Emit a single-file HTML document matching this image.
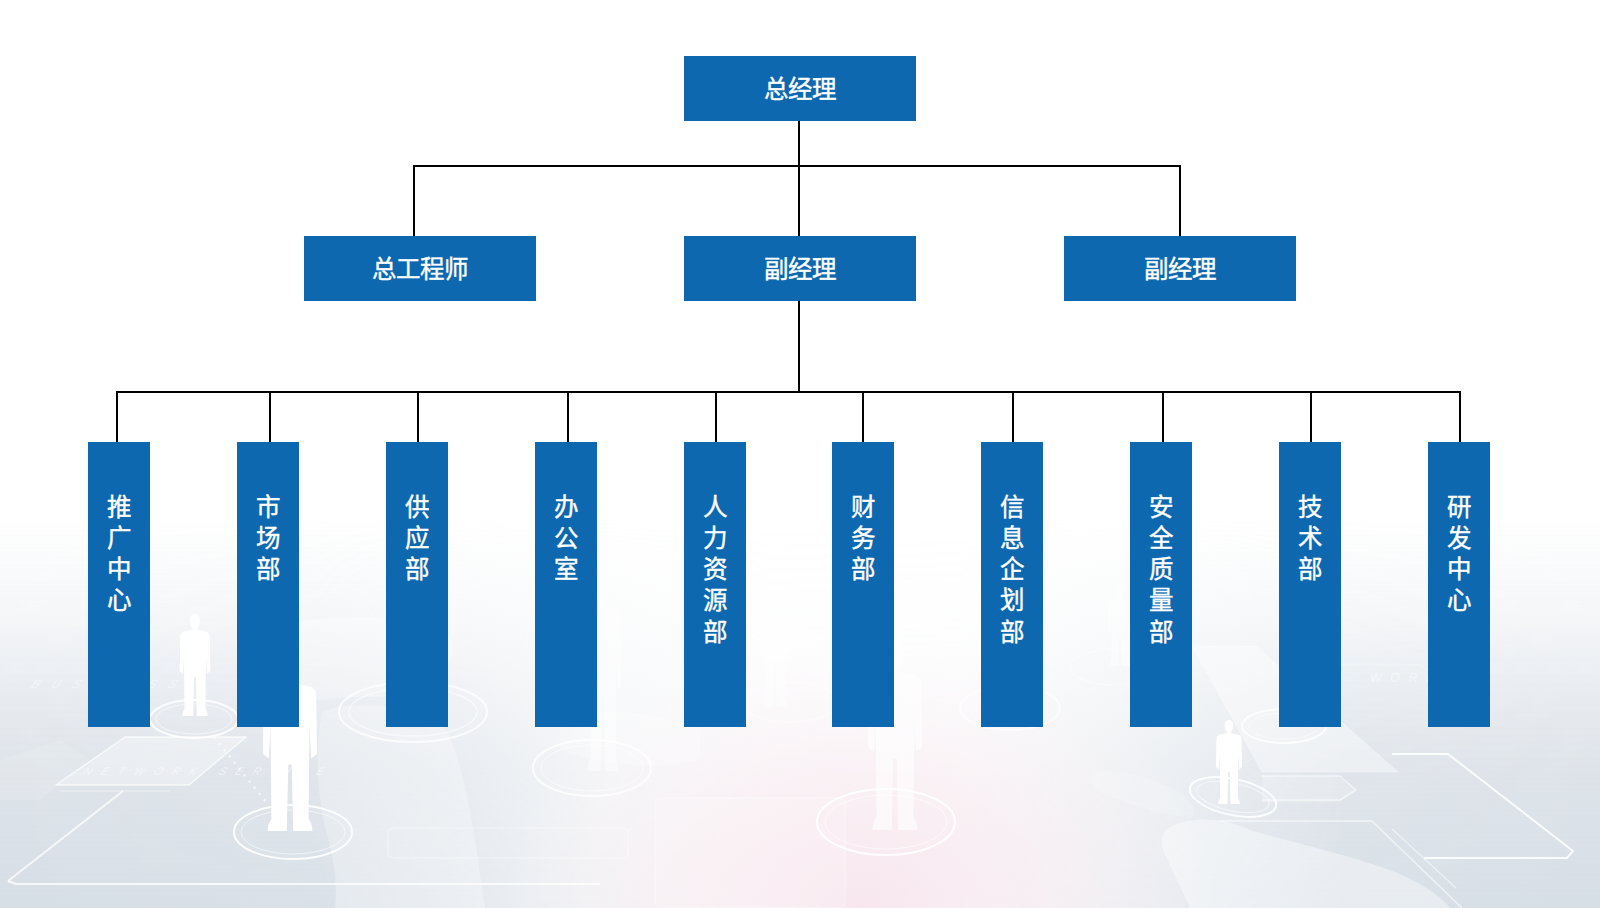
<!DOCTYPE html>
<html lang="zh-CN">
<head>
<meta charset="utf-8">
<title>组织架构</title>
<style>
html,body{margin:0;padding:0;}
body{width:1600px;height:908px;overflow:hidden;position:relative;background:#fff;font-family:"Liberation Sans",sans-serif;}
#bg{position:absolute;left:0;top:0;width:1600px;height:908px;}
.box{position:absolute;background:#0e68af;color:#fff;box-sizing:border-box;text-align:center;-webkit-text-stroke:0.4px #fff;}
.h{width:232px;height:65px;top:236px;font-size:24.5px;line-height:65px;padding-top:2px;line-height:63px;}
.v{width:62px;height:285px;top:442px;font-size:24.5px;line-height:31.25px;padding-top:49.5px;}
.ln{position:absolute;background:#000;}
</style>
</head>
<body>
<svg id="bg" width="1600" height="908" viewBox="0 0 1600 908">
  <defs>
    <linearGradient id="gv" x1="0" y1="0" x2="0" y2="908" gradientUnits="userSpaceOnUse">
      <stop offset="0" stop-color="#dbe1e8" stop-opacity="0"/>
      <stop offset="0.57" stop-color="#dbe1e8" stop-opacity="0"/>
      <stop offset="0.68" stop-color="#dbe1e8" stop-opacity="0.3"/>
      <stop offset="0.76" stop-color="#dbe1e8" stop-opacity="0.62"/>
      <stop offset="0.85" stop-color="#dae0e7" stop-opacity="0.9"/>
      <stop offset="1" stop-color="#d6dee6" stop-opacity="1"/>
    </linearGradient>
    <linearGradient id="gh" x1="0" y1="0" x2="1600" y2="0" gradientUnits="userSpaceOnUse">
      <stop offset="0" stop-color="#fff"/>
      <stop offset="0.2" stop-color="#eaeaea"/>
      <stop offset="0.28" stop-color="#b0b0b0"/>
      <stop offset="0.38" stop-color="#555"/>
      <stop offset="0.48" stop-color="#1e1e1e"/>
      <stop offset="0.6" stop-color="#222"/>
      <stop offset="0.72" stop-color="#888"/>
      <stop offset="0.84" stop-color="#eee"/>
      <stop offset="1" stop-color="#fff"/>
    </linearGradient>
    <mask id="mh" maskUnits="userSpaceOnUse" x="0" y="0" width="1600" height="908">
      <rect x="0" y="0" width="1600" height="908" fill="url(#gh)"/>
    </mask>
    <radialGradient id="gp" cx="860" cy="908" r="360" gradientUnits="userSpaceOnUse" gradientTransform="translate(860 908) scale(1 0.75) translate(-860 -908)">
      <stop offset="0" stop-color="#f7e4ec" stop-opacity="0.9"/>
      <stop offset="0.5" stop-color="#f9eaf0" stop-opacity="0.6"/>
      <stop offset="1" stop-color="#fbf2f6" stop-opacity="0"/>
    </radialGradient>
  </defs>
  <rect x="0" y="0" width="1600" height="908" fill="#ffffff"/>
  <rect x="0" y="0" width="1600" height="908" fill="url(#gv)" mask="url(#mh)"/>
  <rect x="0" y="0" width="1600" height="908" fill="url(#gp)"/>
<defs><path id="man" d="M0,0 C3.8,0 5,3 5,6.5 C5,10 3.8,12.5 2.5,13.5 L2.5,15.5 L11.5,17.5 C14,18.5 14.8,20 14.8,23 L15.3,56 L12,58.5 L11,40 L10.8,60 L10.5,93 C11.5,95 13,97 12.5,100 L1.8,100 L1,62 L-1,62 L-1.8,100 L-12.5,100 C-13,97 -11.5,95 -10.5,93 L-10.8,60 L-11,40 L-12,58.5 L-15.3,56 L-14.8,23 C-14.8,20 -14,18.5 -11.5,17.5 L-2.5,15.5 L-2.5,13.5 C-3.8,12.5 -5,10 -5,6.5 C-5,3 -3.8,0 0,0 Z"/></defs>

  <g fill="#ffffff" stroke="none">
    <!-- world map light blobs -->
    <path d="M1172,826 C1195,816 1225,818 1250,830 C1290,842 1340,852 1390,870 C1420,882 1440,895 1450,908 L1190,908 C1182,890 1172,870 1163,850 C1160,838 1163,830 1172,826 Z" fill-opacity="0.4"/>
    <path d="M1095,772 C1120,768 1150,778 1175,790 C1190,800 1200,812 1190,818 C1165,815 1130,805 1105,795 C1092,788 1088,778 1095,772 Z" fill-opacity="0.18"/>
    
    <path d="M255,632 C300,615 380,612 440,625 C460,640 455,665 430,690 C400,700 350,695 320,700 C290,690 262,670 255,650 Z" fill-opacity="0.3"/>
    <path d="M322,712 C345,702 390,705 430,712 C455,730 465,780 475,840 L485,908 L335,908 C338,880 332,852 326,830 C318,800 314,752 322,712 Z" fill-opacity="0.28"/>
    <path d="M0,760 L60,740 L90,760 L40,800 L0,800 Z" fill-opacity="0.12"/>
    <path d="M560,720 C600,705 660,712 700,730 L700,760 C660,770 600,765 560,750 Z" fill-opacity="0.25"/>
    <!-- right panels light fill -->
    <path d="M1262,776 L1340,776 L1356,790 L1340,802 L1262,802 Z" fill-opacity="0.2"/>
  </g>
  <g fill="#ffffff" font-family="Liberation Sans, sans-serif" font-style="italic">
    <text x="84" y="775" font-size="11" letter-spacing="9.5" fill-opacity="0.55" transform="skewX(-25)" style="transform-box:fill-box;transform-origin:center">NETWORK SERVICE</text>
    <text x="32" y="688" font-size="12" letter-spacing="12" fill-opacity="0.45" transform="skewX(-25)" style="transform-box:fill-box;transform-origin:center">BUSINESS</text>
    <text x="1370" y="682" font-size="12" letter-spacing="9" fill-opacity="0.5">WORLD</text>
  </g>
  <g fill="none" stroke="#ffffff">
    <ellipse cx="790" cy="702" rx="48" ry="20" stroke-opacity="0.4" stroke-width="1.5"/>
    <ellipse cx="1115" cy="667" rx="45" ry="18" stroke-opacity="0.4" stroke-width="1.5"/>
  </g>
  <g fill="#ffffff" fill-opacity="0.45">
    <use href="#man" transform="translate(603 576) scale(1.2 1.95)"/>
    <use href="#man" transform="translate(775 596) scale(0.95 1.1)"/>
    <use href="#man" transform="translate(1120 586) scale(0.8 0.8)"/>
  </g>
  <g fill="none" stroke="#ffffff" stroke-linejoin="round">
    <!-- left panels -->
    <path d="M125,737 L246,737 L189,785 L56,785 Z" fill="#ffffff" fill-opacity="0.35" stroke-opacity="0.7" stroke-width="1.5"/>
    <path d="M8,881 L123,791" stroke-opacity="0.75" stroke-width="2"/>
    <path d="M60,791 L170,791" stroke-opacity="0.35" stroke-width="1.5"/>
    <path d="M214,737 L266,802" stroke-opacity="0.7" stroke-width="2.5" stroke-dasharray="2 6"/>
    <path d="M8,881 L16,884 L600,884" stroke-opacity="0.75" stroke-width="2"/>
    <rect x="388" y="828" width="240" height="30" rx="5" stroke-opacity="0.35" stroke-width="1.5"/>
    <rect x="655" y="798" width="190" height="110" rx="6" fill="#ffffff" fill-opacity="0.15" stroke-opacity="0.3" stroke-width="1.5"/>
    <!-- right panels -->
    <path d="M1392,754 L1448,754 L1573,851 L1567,858 L1424,858" stroke-opacity="0.85" stroke-width="2"/>
    <path d="M1392,829 L1456,888" stroke-opacity="0.5" stroke-width="1.5"/>
    <path d="M1192,646 L1256,646 L1398,772 L1262,772 Z" fill="#ffffff" fill-opacity="0.4" stroke-opacity="0.35" stroke-width="1"/>
    <path d="M1262,776 L1340,776 L1356,790 L1340,800 L1262,800" stroke-opacity="0.55" stroke-width="1.5"/>
    <path d="M1219,821 L1372,821 L1462,908" stroke-opacity="0.6" stroke-width="1.5"/>
    <path d="M1290,665 L1420,665 L1470,700" stroke-opacity="0.3" stroke-width="1"/>
    <!-- rings -->
    <ellipse cx="194" cy="719" rx="44" ry="19" stroke-opacity="0.9" stroke-width="2"/>
    <ellipse cx="194" cy="719" rx="38" ry="15" stroke-opacity="0.6" stroke-width="1"/>
    <ellipse cx="293" cy="832" rx="59" ry="27" stroke-opacity="0.9" stroke-width="2"/>
    <ellipse cx="293" cy="832" rx="52" ry="22" stroke-opacity="0.6" stroke-width="1"/>
    <ellipse cx="592" cy="768" rx="59" ry="28" stroke-opacity="0.8" stroke-width="2"/>
    <ellipse cx="592" cy="768" rx="51" ry="23" stroke-opacity="0.5" stroke-width="1"/>
    <ellipse cx="413" cy="712" rx="74" ry="30" stroke-opacity="0.75" stroke-width="2"/>
    <ellipse cx="413" cy="712" rx="64" ry="24" stroke-opacity="0.5" stroke-width="1.5"/>
    <ellipse cx="886" cy="822" rx="69" ry="33" stroke-opacity="0.9" stroke-width="2"/>
    <ellipse cx="886" cy="822" rx="61" ry="27" stroke-opacity="0.6" stroke-width="1"/>
    <ellipse cx="1233" cy="797" rx="44" ry="18" transform="rotate(12 1233 797)" stroke-opacity="0.9" stroke-width="2"/>
    <ellipse cx="1233" cy="797" rx="37" ry="14" transform="rotate(12 1233 797)" stroke-opacity="0.6" stroke-width="1"/>
    <ellipse cx="1284" cy="726" rx="42" ry="17" stroke-opacity="0.8" stroke-width="2"/>
    <ellipse cx="1284" cy="726" rx="35" ry="13" stroke-opacity="0.5" stroke-width="1"/>
    <ellipse cx="1010" cy="708" rx="50" ry="22" stroke-opacity="0.6" stroke-width="2"/>
  </g>
  <g fill="#ffffff">
    <use href="#man" transform="translate(195 614) scale(1 1.02)"/>
    <use href="#man" transform="translate(290 656) scale(1.77 1.75)"/>
    <use href="#man" transform="translate(895 642) scale(1.77 1.88)" fill-opacity="0.6"/>
    <use href="#man" transform="translate(1229 720) scale(0.85 0.84)"/>
  </g>
</svg>

<div class="box h" style="left:684px;top:56px;">总经理</div>
<div class="box h" style="left:304px;">总工程师</div>
<div class="box h" style="left:684px;">副经理</div>
<div class="box h" style="left:1064px;">副经理</div>

<div class="ln" style="left:798px;top:121px;width:2px;height:115px;"></div>
<div class="ln" style="left:413px;top:165px;width:768px;height:2px;"></div>
<div class="ln" style="left:413px;top:165px;width:2px;height:71px;"></div>
<div class="ln" style="left:1179px;top:165px;width:2px;height:71px;"></div>

<div class="ln" style="left:798px;top:301px;width:2px;height:91px;"></div>
<div class="ln" style="left:116px;top:391px;width:1345px;height:2px;"></div>
<div class="ln" style="left:116px;top:391px;width:2px;height:51px;"></div>
<div class="ln" style="left:269px;top:391px;width:2px;height:51px;"></div>
<div class="ln" style="left:417px;top:391px;width:2px;height:51px;"></div>
<div class="ln" style="left:567px;top:391px;width:2px;height:51px;"></div>
<div class="ln" style="left:715px;top:391px;width:2px;height:51px;"></div>
<div class="ln" style="left:862px;top:391px;width:2px;height:51px;"></div>
<div class="ln" style="left:1012px;top:391px;width:2px;height:51px;"></div>
<div class="ln" style="left:1162px;top:391px;width:2px;height:51px;"></div>
<div class="ln" style="left:1310px;top:391px;width:2px;height:51px;"></div>
<div class="ln" style="left:1459px;top:391px;width:2px;height:51px;"></div>

<div class="box v" style="left:88px;">推<br>广<br>中<br>心</div>
<div class="box v" style="left:237px;">市<br>场<br>部</div>
<div class="box v" style="left:386px;">供<br>应<br>部</div>
<div class="box v" style="left:535px;">办<br>公<br>室</div>
<div class="box v" style="left:684px;">人<br>力<br>资<br>源<br>部</div>
<div class="box v" style="left:832px;">财<br>务<br>部</div>
<div class="box v" style="left:981px;">信<br>息<br>企<br>划<br>部</div>
<div class="box v" style="left:1130px;">安<br>全<br>质<br>量<br>部</div>
<div class="box v" style="left:1279px;">技<br>术<br>部</div>
<div class="box v" style="left:1428px;">研<br>发<br>中<br>心</div>
</body>
</html>
